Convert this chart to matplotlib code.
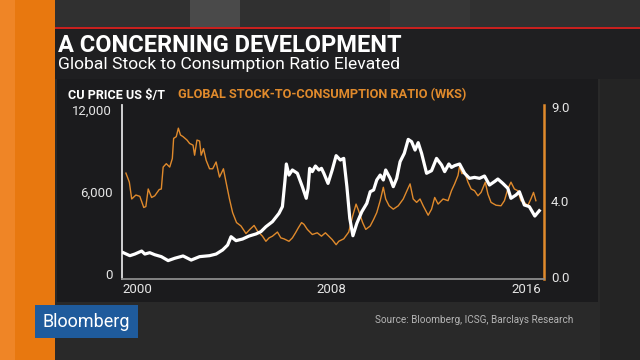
import matplotlib
matplotlib.use('Agg')
import matplotlib.pyplot as plt
from matplotlib.patches import Rectangle

# copper price (US$/t)
cu_years = [2000.05, 2000.30, 2000.49, 2000.75, 2000.87, 2001.06, 2001.25, 2001.50, 2001.76, 2002.01,
            2002.33, 2002.64, 2002.96, 2003.34, 2003.59, 2003.84, 2004.03, 2004.16, 2004.35, 2004.60,
            2004.85, 2005.11, 2005.30, 2005.49, 2005.74, 2005.99, 2006.12, 2006.22, 2006.27, 2006.37,
            2006.50, 2006.69, 2006.88, 2007.03, 2007.10, 2007.16, 2007.26, 2007.38, 2007.51, 2007.61,
            2007.70, 2007.86, 2008.02, 2008.17, 2008.33, 2008.46, 2008.58, 2008.69, 2008.81, 2008.96,
            2009.15, 2009.34, 2009.47, 2009.60, 2009.72, 2009.85, 2009.97, 2010.06, 2010.23, 2010.35,
            2010.48, 2010.61, 2010.77, 2010.92, 2011.05, 2011.18, 2011.30, 2011.43, 2011.62, 2011.81,
            2012.00, 2012.19, 2012.31, 2012.47, 2012.57, 2012.69, 2012.88, 2013.07, 2013.26, 2013.45,
            2013.64, 2013.83, 2014.02, 2014.21, 2014.34, 2014.53, 2014.72, 2014.84, 2015.03, 2015.16,
            2015.35, 2015.54, 2015.75, 2015.92]
cu_price = [1560, 1340, 1460, 1680, 1460, 1560, 1410, 1270, 980, 1150,
            1320, 1020, 1270, 1340, 1460, 1760, 2120, 2730, 2440, 2560,
            2780, 2930, 3100, 3460, 3830, 4440, 4930, 6880, 8050, 7240,
            7610, 7370, 6390, 5540, 6270, 7730, 7490, 7900, 7610, 7730,
            7370, 6630, 7610, 8660, 8340, 8460, 6390, 4070, 2800, 3710,
            4560, 5170, 6020, 6150, 6880, 7240, 6880, 7610, 7000, 6390,
            7000, 8220, 8830, 9850, 9680, 9070, 9610, 8830, 7370, 7560,
            8460, 7980, 7490, 8050, 7800, 7930, 8050, 7370, 7000, 7070,
            7000, 7170, 6510, 6760, 6950, 6630, 6270, 5540, 5780, 6020,
            5050, 4930, 4240, 4630]

# global stock-to-consumption ratio (weeks)
sc_years = [2000.15, 2000.28, 2000.37, 2000.53, 2000.68, 2000.83, 2000.91, 2001.00, 2001.13, 2001.25,
            2001.42, 2001.50, 2001.57, 2001.69, 2001.82, 2001.92, 2001.97, 2002.07, 2002.15, 2002.23,
            2002.33, 2002.48, 2002.58, 2002.71, 2002.77, 2002.86, 2002.96, 2003.02, 2003.11, 2003.21,
            2003.34, 2003.46, 2003.59, 2003.72, 2003.87, 2003.97, 2004.10, 2004.22, 2004.37, 2004.54,
            2004.73, 2004.88, 2005.04, 2005.17, 2005.36, 2005.49, 2005.61, 2005.74, 2005.93, 2006.06,
            2006.18, 2006.37, 2006.50, 2006.62, 2006.73, 2006.85, 2006.94, 2007.07, 2007.26, 2007.45,
            2007.61, 2007.76, 2007.89, 2008.02, 2008.17, 2008.27, 2008.46, 2008.65, 2008.80, 2008.93,
            2009.03, 2009.18, 2009.30, 2009.47, 2009.60, 2009.72, 2009.85, 2009.97, 2010.06, 2010.19,
            2010.35, 2010.54, 2010.73, 2010.90, 2010.99, 2011.11, 2011.24, 2011.37, 2011.49, 2011.68,
            2011.81, 2011.93, 2012.06, 2012.25, 2012.44, 2012.57, 2012.69, 2012.82, 2012.88, 2012.97,
            2013.07, 2013.20, 2013.32, 2013.45, 2013.58, 2013.70, 2013.86, 2013.96, 2014.08, 2014.27,
            2014.46, 2014.59, 2014.72, 2014.84, 2014.97, 2015.10, 2015.22, 2015.35, 2015.48, 2015.60,
            2015.70, 2015.79]
sc_ratio = [5.50, 5.02, 4.13, 4.34, 4.27, 3.68, 3.73, 4.66, 4.21, 4.30,
            4.63, 4.66, 5.82, 6.00, 5.82, 6.27, 7.34, 7.43, 7.88, 7.52,
            7.43, 7.25, 7.07, 6.98, 6.45, 7.25, 7.20, 6.45, 6.80, 6.18,
            5.73, 5.73, 6.09, 5.29, 5.73, 5.02, 4.13, 3.41, 2.88, 2.70,
            2.30, 2.52, 2.73, 2.43, 2.16, 1.89, 2.07, 2.16, 2.38, 2.07,
            2.02, 1.89, 2.07, 2.34, 2.61, 2.88, 2.79, 2.52, 2.25, 2.34,
            2.16, 2.34, 2.16, 1.98, 1.71, 1.89, 2.02, 2.38, 3.23, 3.86,
            3.50, 2.88, 2.52, 2.70, 3.05, 3.41, 4.04, 4.75, 4.13, 3.77,
            3.59, 3.77, 4.13, 4.66, 4.93, 4.13, 3.95, 4.13, 3.77, 3.27,
            3.59, 4.21, 3.86, 4.13, 4.04, 4.57, 4.93, 5.38, 5.88, 5.47,
            5.55, 5.02, 4.66, 4.57, 4.30, 4.48, 5.02, 4.39, 3.95, 3.80,
            3.77, 4.04, 4.66, 5.02, 4.66, 4.57, 4.04, 3.95, 3.77, 4.13,
            4.48, 4.04]

x_ticks = [2000, 2008, 2016]
x_labels = ['2000', '2008', '2016']
cu_ticks = [0, 6000, 12000]
cu_labels = ['0', '6,000', '12,000']
sc_ticks = [0.0, 4.0, 9.0]
sc_labels = ['0.0', '4.0', '9.0']

W, H = 640, 360
ORANGE = '#e08a2c'
plt.rcParams['font.family'] = ['Roboto', 'DejaVu Sans']

fig = plt.figure(figsize=(6.4, 3.6), dpi=100)
fig.patch.set_facecolor('#292929')


def box(x0, y0, x1, y1, color, z=-5):
    # rectangle in pixel coords (origin top-left)
    fig.patches.append(Rectangle((x0 / W, 1 - y1 / H), (x1 - x0) / W, (y1 - y0) / H,
                                 transform=fig.transFigure, facecolor=color,
                                 edgecolor='none', zorder=z))


# studio background
box(0, 0, 640, 27, '#303030')
box(190, 0, 240, 27, '#4a4a4a')
box(390, 0, 470, 27, '#363636')
box(600, 29, 640, 360, '#242424')
box(0, 0, 55, 360, '#e8780f')
box(0, 0, 15, 360, '#ef8526')
box(55, 27, 640, 29, '#c8201e')
box(55, 29, 640, 79, '#1f1f21')
box(57, 79, 598, 302, '#1b1b1d')
box(35, 305, 138, 338, '#1f5b9c', z=2)

fig.text(58 / W, 1 - 45 / H, 'A CONCERNING DEVELOPMENT', color='white', fontsize=17,
         fontweight='bold', va='center', ha='left')
fig.text(58 / W, 1 - 65 / H, 'Global Stock to Consumption Ratio Elevated', color='white',
         fontsize=12.6, va='center', ha='left')
fig.text(68 / W, 1 - 95 / H, 'CU PRICE US $/T', color='white', fontsize=9.1,
         fontweight='bold', va='center', ha='left')
fig.text(178 / W, 1 - 95 / H, 'GLOBAL STOCK-TO-CONSUMPTION RATIO (WKS)', color=ORANGE,
         fontsize=9.2, fontweight='bold', va='center', ha='left')
fig.text(86 / W, 1 - 322 / H, 'Bloomberg', color='white', fontsize=13, va='center',
         ha='center', zorder=3)
fig.text(573 / W, 1 - 320 / H, 'Source: Bloomberg, ICSG, Barclays Research', color='#b5b5b5',
         fontsize=7.2, va='center', ha='right')

ax = fig.add_axes([122 / W, 1 - 279 / H, (544 - 122) / W, (279 - 105) / H])
ax.set_facecolor('none')
ax2 = ax.twinx()

ax2.plot(sc_years, sc_ratio, color=ORANGE, lw=1.0)
ax.plot(cu_years, cu_price, color='white', lw=2.3, zorder=3)
ax.set_zorder(ax2.get_zorder() + 1)

ax.set_xlim(2000, 2016.1)
ax.set_ylim(-366, 12366)
ax2.set_ylim(-0.107, 9.107)

ax.set_xticks(x_ticks, x_labels)
ax.set_yticks(cu_ticks, cu_labels)
ax2.set_yticks(sc_ticks, sc_labels)
for lbl, ha in zip(ax.get_xticklabels(), ['left', 'center', 'right']):
    lbl.set_ha(ha)

ax.tick_params(axis='x', length=0, pad=3, labelsize=9.5, colors='#e6e6e6')
ax.tick_params(axis='y', length=0, pad=7, labelsize=9.5, colors='#e6e6e6')
ax2.tick_params(axis='y', length=0, pad=5, labelsize=9.5, colors='#e6e6e6')

for a in (ax, ax2):
    a.spines['top'].set_visible(False)
    a.spines['left'].set_color('#e0e0e0')
    a.spines['bottom'].set_color('#8c8c8c')
    a.spines['right'].set_color(ORANGE)
    a.spines['left'].set_linewidth(1.3)
    a.spines['bottom'].set_linewidth(1.3)
    a.spines['right'].set_linewidth(1.8)
ax.spines['right'].set_visible(False)
ax2.spines['left'].set_visible(False)
ax2.spines['bottom'].set_visible(False)

fig.savefig('out.png', dpi=100, facecolor=fig.get_facecolor())
